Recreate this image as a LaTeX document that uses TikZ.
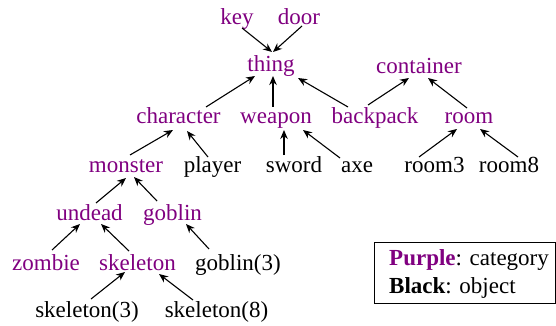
\documentclass[tikz,border=0pt]{standalone}
\usepackage{fontspec}
\setmainfont{Liberation Serif}
\usetikzlibrary{arrows.meta,calc}
\definecolor{catpurple}{RGB}{128,0,128}
\tikzset{
  lbl/.style={anchor=base, inner sep=0pt, font=\fontsize{23}{27.6}\selectfont},
  cat/.style={lbl, text=catpurple},
  obj/.style={lbl, text=black},
  isa/.style={line width=1.1pt, -{Stealth[length=9pt,width=7.5pt]}},
  legendbox/.style={draw, line width=0.9pt, inner sep=0pt},
}
\begin{document}
\begin{tikzpicture}[x=1pt,y=-1pt]
\useasboundingbox (0,0) rectangle (556,326);

% row 1
\node[cat] (key)  at (237,25) {key};
\node[cat] (door) at (299,25) {door};
% row 2
\node[cat] (thing)     at (271,72) {thing};
\node[cat] (container) at (419,74) {container};
% row 3
\node[cat] (character) at (178.5,124) {character};
\node[cat] (weapon)    at (276,124) {weapon};
\node[cat] (backpack)  at (375,124) {backpack};
\node[cat] (room)      at (469,124) {room};
% row 4
\node[cat] (monster) at (126,172) {monster};
\node[obj] (player)  at (212.5,172) {player};
\node[obj] (sword)   at (294,172) {sword};
\node[obj] (axe)     at (357,172) {axe};
\node[obj] (room3)   at (434.5,172) {room3};
\node[obj] (room8)   at (509,172) {room8};
% row 5
\node[cat] (undead) at (89.5,220) {undead};
\node[cat] (goblin) at (172.5,220) {goblin};
% row 6
\node[cat] (zombie)   at (46,270) {zombie};
\node[cat] (skeleton) at (137.5,270) {skeleton};
\node[obj] (goblin3)  at (238,270) {goblin(3)};
% row 7
\node[obj] (skeleton3) at (87,317) {skeleton(3)};
\node[obj] (skeleton8) at (216.5,317) {skeleton(8)};

% is-a links, child -> parent
\draw[isa] ($(key.base)+(5,3)$)          -- ($(thing.base)+(1,-20)$);
\draw[isa] ($(door.base)+(3,1)$)         -- ($(thing.base)+(2,-20)$);
\draw[isa] ($(character.base)+(27.5,-17)$) -- ($(thing.base)+(-16,4)$);
\draw[isa] ($(weapon.base)+(-3,-17)$)    -- ($(thing.base)+(2,4)$);
\draw[isa] ($(backpack.base)+(-27,-17)$) -- ($(thing.base)+(27,6)$);
\draw[isa] ($(backpack.base)+(-7,-19)$)  -- ($(container.base)+(-10,4)$);
\draw[isa] ($(room.base)+(-2,-16)$)      -- ($(container.base)+(9,4)$);
\draw[isa] ($(monster.base)+(4,-17)$)    -- ($(character.base)+(-5.5,6)$);
\draw[isa] ($(player.base)+(-4.5,-15)$)  -- ($(character.base)+(8.5,7)$);
\draw[isa] ($(sword.base)+(-10,-17)$)    -- ($(weapon.base)+(8,6)$);
\draw[isa] ($(axe.base)+(-17,-14)$)      -- ($(weapon.base)+(27,6)$);
\draw[isa] ($(room3.base)+(-15.5,-15)$)  -- ($(room.base)+(-12,5)$);
\draw[isa] ($(room8.base)+(9,-15)$)      -- ($(room.base)+(11,5)$);
\draw[isa] ($(undead.base)+(6.5,-17)$)   -- ($(monster.base)+(0,6)$);
\draw[isa] ($(goblin.base)+(-15.5,-19)$) -- ($(monster.base)+(8,5)$);
\draw[isa] ($(zombie.base)+(6,-20)$)     -- ($(undead.base)+(-9.5,4)$);
\draw[isa] ($(skeleton.base)+(-8.5,-19)$) -- ($(undead.base)+(11.5,4)$);
\draw[isa] ($(goblin3.base)+(-29,-21)$)  -- ($(goblin.base)+(13.5,4)$);
\draw[isa] ($(skeleton3.base)+(4,-18)$)  -- ($(skeleton.base)+(-12.5,2)$);
\draw[isa] ($(skeleton8.base)+(-23.5,-17)$) -- ($(skeleton.base)+(21.5,4)$);

% legend
\node[legendbox, minimum width=181pt, minimum height=61pt, anchor=north west] (legend) at (374,242) {};
\node[lbl, anchor=base west] (legcat) at (389,265) {\textcolor{catpurple}{\textbf{Purple}}: category};
\node[lbl, anchor=base west] (legobj) at (389,293) {\textbf{Black}: object};
\end{tikzpicture}
\end{document}
